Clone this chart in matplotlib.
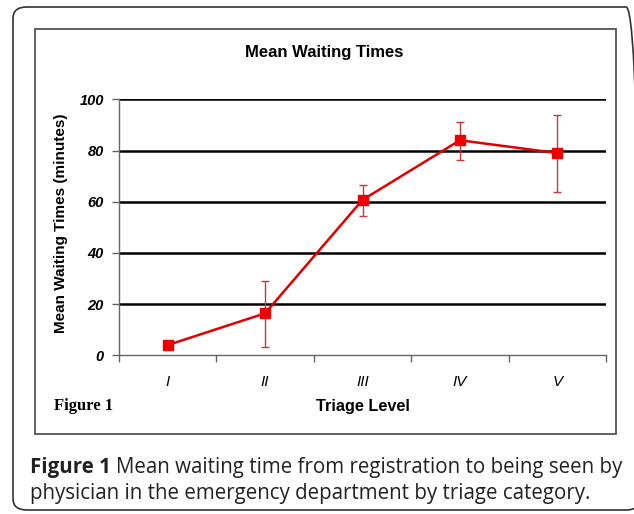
import matplotlib
matplotlib.use("Agg")
import matplotlib.pyplot as plt
from matplotlib.patches import FancyBboxPatch, Rectangle

levels = ["I", "II", "III", "IV", "V"]
mean_wait = [4.0, 16.4, 60.7, 84.0, 79.0]
err_low = [0.0, 13.2, 6.2, 7.7, 15.2]
err_high = [0.0, 12.6, 5.8, 7.1, 14.9]

W, H = 634, 514
fig = plt.figure(figsize=(W / 100, H / 100), dpi=100)


def fx(px):
    return px / W


def fy(py):
    return 1 - py / H


# outer rounded frame and inner chart frame
frame = FancyBboxPatch((fx(13), fy(510)), fx(640) - fx(13), fy(7) - fy(510),
                       boxstyle="round,pad=0,rounding_size=0.022",
                       transform=fig.transFigure, fill=False,
                       edgecolor="#333333", linewidth=1.2, clip_on=False)
fig.patches.append(frame)
inner = Rectangle((fx(35), fy(434)), fx(616) - fx(35), fy(29) - fy(434),
                  transform=fig.transFigure, fill=False,
                  edgecolor="#555555", linewidth=1.3)
fig.patches.append(inner)

ax = fig.add_axes([fx(119), fy(355.3), fx(606) - fx(119), fy(99.3) - fy(355.3)])
x = list(range(len(levels)))
ax.errorbar(x, mean_wait, yerr=[err_low, err_high], fmt="none",
            ecolor="#c83a3a", elinewidth=1.0, capsize=3, capthick=1.0, zorder=3)
ax.plot(x, mean_wait, color="#e00000", linewidth=1.8, marker="s",
        markersize=6.5, markerfacecolor="#ee0000", markeredgecolor="#ee0000",
        zorder=4)

ax.set_xlim(-0.5, 4.5)
ax.set_ylim(0, 100)
ax.set_yticks([0, 20, 40, 60, 80, 100])
for v in [20, 40, 60, 80, 100]:
    ax.axhline(v, color="black", linewidth=1.8, zorder=1)
for s in ["top", "right"]:
    ax.spines[s].set_visible(False)
for s in ["left", "bottom"]:
    ax.spines[s].set_color("#666666")
    ax.spines[s].set_linewidth(1.0)

ax.set_xticks([-0.5, 0.5, 1.5, 2.5, 3.5, 4.5])
ax.set_xticklabels([])
ax.set_xticks(x, minor=True)
ax.set_xticklabels(levels, minor=True, fontstyle="italic", fontsize=11,
                   family="Liberation Sans")
ax.tick_params(axis="x", which="major", length=5, color="#666666", width=1)
ax.tick_params(axis="x", which="minor", length=0, pad=14)
ax.tick_params(axis="y", length=5, color="#666666", width=1, pad=6)
for lab in ax.get_yticklabels():
    lab.set_fontweight("bold")
    lab.set_fontstyle("italic")
    lab.set_fontsize(10.5)
    lab.set_family("Liberation Sans")

fig.text(fx(324.5), fy(52), "Mean Waiting Times", ha="center", va="center",
         fontsize=12, fontweight="bold", family="Liberation Sans")
fig.text(fx(61), fy(223), "Mean Waiting Times (minutes)", ha="center",
         va="center", rotation=90, fontsize=11, fontweight="bold",
         family="Liberation Sans")
fig.text(fx(363), fy(407), "Triage Level", ha="center", va="center",
         fontsize=11.7, fontweight="bold", family="Liberation Sans")
fig.text(fx(54), fy(406), "Figure 1", ha="left", va="center",
         fontsize=12, fontweight="bold", family="Liberation Serif")

# caption below the chart box
cap = "#222222"
fs = 14.8
t = fig.text(fx(30), fy(467), "Figure 1", ha="left", va="center",
             fontsize=fs, fontweight="bold", family="Open Sans", color=cap)
r = fig.canvas.get_renderer()
bb = t.get_window_extent(renderer=r)
fig.text(bb.x1 / W + fx(5), fy(467),
         "Mean waiting time from registration to being seen by",
         ha="left", va="center", fontsize=fs, family="Open Sans", color=cap)
fig.text(fx(30), fy(493), "physician in the emergency department by triage category.",
         ha="left", va="center", fontsize=fs, family="Open Sans", color=cap)

fig.savefig("out.png", dpi=100)
